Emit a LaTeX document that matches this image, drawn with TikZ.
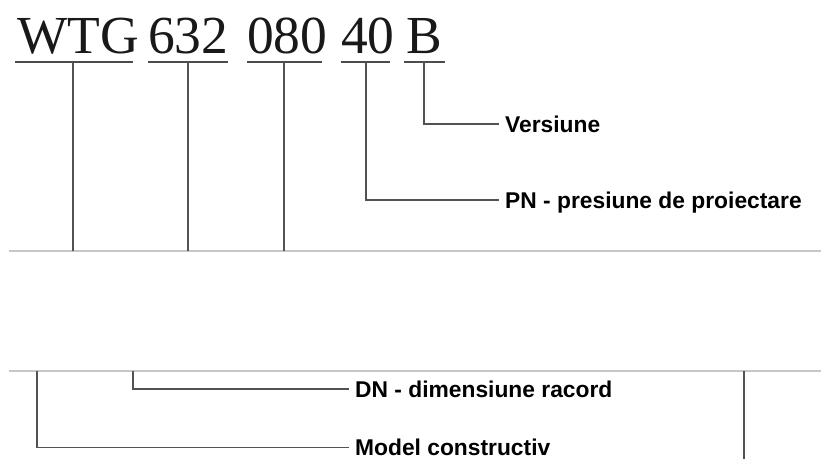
\documentclass[tikz,border=0pt]{standalone}
\usepackage{fontspec}
\setmainfont{Liberation Serif}
\newfontfamily\labelfont{Liberation Sans}
\begin{document}
\begin{tikzpicture}[x=1pt,y=-1pt,
  titleword/.style={anchor=base west,inner sep=0pt,font=\fontsize{53.5}{54}\selectfont,text=black!90},
  uline/.style={draw=black!70,line width=1.6pt},
  conn/.style={draw=black!68,line width=1.8pt},
  sepline/.style={draw=black!22,line width=1.6pt},
  lab/.style={anchor=west,inner xsep=6pt,inner ysep=0pt,text height=16.4pt,text depth=0pt,
    font=\labelfont\bfseries\fontsize{22.8}{23}\selectfont}]
\useasboundingbox (0,0) rectangle (821,459);
\fill[white] (0,0) rectangle (821,459);
% title words
\node[titleword] (wtg) at (17,53) {WTG};
\node[titleword] (n632) at (148,53) {632};
\node[titleword] (n080) at (247,53) {080};
\node[titleword] (n40) at (341,53) {40};
\node[titleword] (nB) at (406,53) {B};
% underlines
\draw[uline] (15,62) -- (133,62);
\draw[uline] (148,62) -- (228,62);
\draw[uline] (247,62) -- (322,62);
\draw[uline] (341,62) -- (390,62);
\draw[uline] (404,62) -- (445,62);
% separator lines
\draw[sepline] (9,251) -- (821,251);
\draw[sepline] (9,371) -- (821,371);
% anchor coordinates
\coordinate (uwtg) at (73,62);
\coordinate (u632) at (188,62);
\coordinate (u080) at (284,62);
\coordinate (u40) at (366,62);
\coordinate (uB) at (424,62);
\coordinate (ewtg) at (73,251);
\coordinate (e632) at (188,251);
\coordinate (e080) at (284,251);
\coordinate (smodel) at (37,371);
\coordinate (sdn) at (133,371);
\coordinate (sright) at (744,371);
\coordinate (eright) at (744,459);
% labels
\node[lab] (ver) at (499,124) {Versiune};
\node[lab] (pn) at (499,200) {PN - presiune de proiectare};
\node[lab] (dn) at (349,389) {DN - dimensiune racord};
\node[lab] (model) at (349,447.5) {Model constructiv};
% connectors
\draw[conn] (uwtg) -- (ewtg);
\draw[conn] (u632) -- (e632);
\draw[conn] (u080) -- (e080);
\draw[conn] (u40) |- (pn.west);
\draw[conn] (uB) |- (ver.west);
\draw[conn] (smodel) |- (model.west);
\draw[conn] (sdn) |- (dn.west);
\draw[conn] (sright) -- (eright);
\end{tikzpicture}
\end{document}
